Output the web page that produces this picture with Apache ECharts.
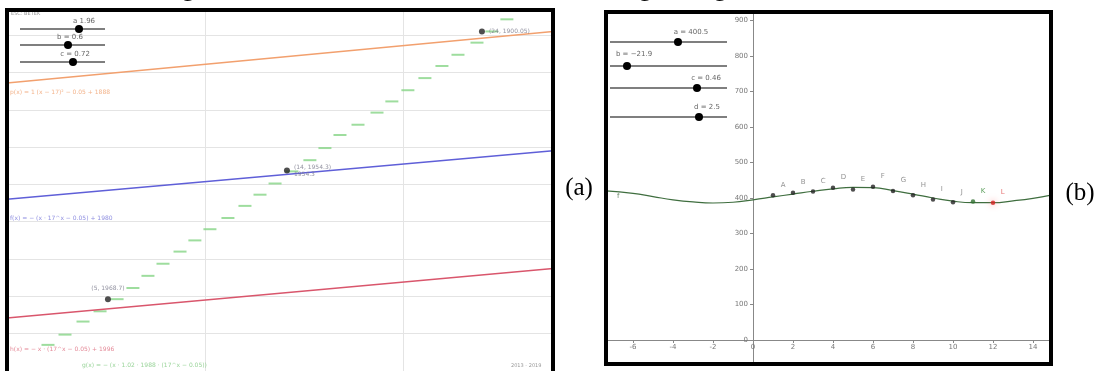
<!DOCTYPE html>
<html>
<head>
<meta charset="utf-8">
<script src="https://cdn.jsdelivr.net/npm/echarts/dist/echarts.min.js"></script>
<style>
  html, body { margin: 0; padding: 0; background: #fff; }
  #root { width: 1102px; height: 371px; }
</style>
</head>
<body>
<div id="root"></div>
<script>
// panel (a): regression lines and step data
const aLineX = [0, 27.58];
const aOrangeY = [77.2, 91.0];
const aBlueY = [46.0, 59.0];
const aRedY = [14.2, 27.5];
const aGreenX = [2.07, 2.93, 3.84, 4.70, 5.56, 6.36, 7.12, 7.88, 8.74, 9.49, 10.25, 11.16, 12.02, 12.78, 13.54,
  14.39, 15.30, 16.06, 16.82, 17.73, 18.69, 19.44, 20.25, 21.11, 21.97, 22.78, 23.74, 24.49, 25.25];
const aGreenY = [7.0, 9.75, 13.25, 16.0, 19.25, 22.25, 25.5, 28.75, 32.0, 35.0, 38.0, 41.0, 44.25, 47.25, 50.25,
  53.5, 56.5, 59.75, 63.25, 66.0, 69.25, 72.25, 75.25, 78.5, 81.75, 84.75, 88.0, 91.0, 94.25];
const aPointX = [23.99, 14.14, 5.10];
const aPointY = [91.0, 53.75, 19.25];
const aPointLabels = ['(24, 1900.05)', '(14, 1954.3)\n1954.3', '(5, 1968.7)'];

// panel (b): sine fit and data points
const bCurveX = [-7.35, -6, -5, -4, -3, -2, -1, 0, 1, 2, 3, 4, 5, 6, 7, 8, 9, 10, 11, 12, 13, 14, 14.9];
const bCurveY = [420, 413, 404, 395, 389, 386, 388, 395, 403, 411, 419, 426, 430, 429, 421, 411, 400, 391, 387, 387, 392, 399, 408];
const bPointX = [1, 2, 3, 4, 5, 6, 7, 8, 9, 10, 11, 12];
const bPointY = [408, 415, 418, 429, 424, 432, 420, 408, 396, 388, 390, 387];
const bPointNames = ['A', 'B', 'C', 'D', 'E', 'F', 'G', 'H', 'I', 'J', 'K', 'L'];
const bXTicks = [-6, -4, -2, 0, 2, 4, 6, 8, 10, 12, 14];
const bYTicks = [0, 100, 200, 300, 400, 500, 600, 700, 800, 900];

const sans = 'DejaVu Sans';
let root = document.getElementById('root');
let myCharts = echarts.init(root);

function pairs(xs, ys) {
  return xs.map((x, i) => [x, ys[i]]);
}
function tinyText(x, y, text, color, size) {
  return {
    type: 'text', x: x, y: y, z: 50,
    style: { text: text, fill: color, font: (size || 6) + 'px ' + sans, verticalAlign: 'middle' }
  };
}
function slider(x1, x2, y, knob, label, labelX, labelY) {
  return [
    { type: 'line', z: 50, shape: { x1: x1, y1: y, x2: x2, y2: y }, style: { stroke: '#555', lineWidth: 1.5 } },
    { type: 'circle', z: 51, shape: { cx: knob, cy: y, r: 4 }, style: { fill: '#000' } },
    { type: 'text', z: 51, x: labelX, y: labelY,
      style: { text: label, fill: '#666', font: '7px ' + sans, align: 'center', verticalAlign: 'middle' } }
  ];
}

let option = {
  animation: false,
  grid: [
    { left: 7, top: 10, width: 546, height: 387 },
    { left: 606, top: 12, width: 445, height: 352 }
  ],
  xAxis: [
    {
      type: 'value', gridIndex: 0, min: 0, max: 27.58, interval: 10,
      axisLine: { show: false }, axisTick: { show: false }, axisLabel: { show: false },
      splitLine: { show: true, lineStyle: { color: '#e4e4e4', width: 1 } }
    },
    {
      // axis crosses at y = 0, which sits 24px above the grid bottom
      type: 'value', gridIndex: 1, min: -7.35, max: 14.9, position: 'bottom', offset: -24,
      axisLine: { show: true, onZero: false, lineStyle: { color: '#888', width: 1 } },
      axisTick: { show: true, length: 3, customValues: bXTicks, lineStyle: { color: '#888' } },
      axisLabel: { customValues: bXTicks, color: '#777', fontSize: 7, fontFamily: sans, margin: 4 },
      splitLine: { show: false }
    }
  ],
  yAxis: [
    {
      type: 'value', gridIndex: 0, min: 0, max: 96.75, interval: 10,
      axisLine: { show: false }, axisTick: { show: false }, axisLabel: { show: false },
      splitLine: { show: true, lineStyle: { color: '#e4e4e4', width: 1 } }
    },
    {
      // axis crosses at x = 0, 147px right of the grid left edge
      type: 'value', gridIndex: 1, min: -67.6, max: 924, position: 'left', offset: -147,
      axisLine: { show: true, onZero: false, lineStyle: { color: '#888', width: 1 } },
      axisTick: { show: true, length: 3, customValues: bYTicks, lineStyle: { color: '#888' } },
      axisLabel: { customValues: bYTicks, color: '#777', fontSize: 7, fontFamily: sans, margin: 5 },
      splitLine: { show: false }
    }
  ],
  series: [
    {
      name: 'orange', type: 'line', xAxisIndex: 0, yAxisIndex: 0, showSymbol: false,
      data: pairs(aLineX, aOrangeY), lineStyle: { color: '#f2a06e', width: 1.5 }
    },
    {
      name: 'blue', type: 'line', xAxisIndex: 0, yAxisIndex: 0, showSymbol: false,
      data: pairs(aLineX, aBlueY), lineStyle: { color: '#5f5fd8', width: 1.5 }
    },
    {
      name: 'red', type: 'line', xAxisIndex: 0, yAxisIndex: 0, showSymbol: false,
      data: pairs(aLineX, aRedY), lineStyle: { color: '#d9566c', width: 1.5 }
    },
    {
      name: 'steps', type: 'scatter', xAxisIndex: 0, yAxisIndex: 0,
      symbol: 'rect', symbolSize: [13, 2],
      data: pairs(aGreenX, aGreenY), itemStyle: { color: '#86d486' }
    },
    {
      name: 'aPoints', type: 'scatter', xAxisIndex: 0, yAxisIndex: 0, symbolSize: 6, z: 5,
      data: aPointX.map((x, i) => ({ value: [x, aPointY[i]], label: { position: i === 2 ? 'top' : 'right' } })),
      itemStyle: { color: '#222' },
      label: {
        show: true, fontSize: 6, fontFamily: sans, color: '#778', distance: 4, lineHeight: 7,
        formatter: p => aPointLabels[p.dataIndex]
      }
    },
    {
      name: 'fit', type: 'line', xAxisIndex: 1, yAxisIndex: 1, smooth: true, showSymbol: false,
      data: pairs(bCurveX, bCurveY), lineStyle: { color: '#3f6e3f', width: 1.2 }
    },
    {
      name: 'bPoints', type: 'scatter', xAxisIndex: 1, yAxisIndex: 1, symbolSize: 4.5, z: 5,
      data: bPointX.map((x, i) => ({
        value: [x, bPointY[i]], name: bPointNames[i],
        itemStyle: bPointNames[i] === 'L' ? { color: '#d42020', shadowBlur: 6, shadowColor: '#ff8080' }
          : bPointNames[i] === 'K' ? { color: '#2f6f2f' } : { color: '#222' },
        label: { color: bPointNames[i] === 'L' ? '#e05050' : bPointNames[i] === 'K' ? '#3a8a3a' : '#777' }
      })),
      label: {
        show: true, position: 'insideBottomLeft', offset: [5, -4], fontSize: 7, fontFamily: sans,
        formatter: p => p.name
      }
    }
  ],
  graphic: [
    // panel borders
    { type: 'rect', z: 100, shape: { x: 7, y: 10, width: 546, height: 400 }, style: { fill: null, stroke: '#000', lineWidth: 4 } },
    { type: 'rect', z: 100, shape: { x: 606, y: 12, width: 445, height: 352 }, style: { fill: null, stroke: '#000', lineWidth: 4 } },
    // panel letters
    { type: 'text', x: 579, y: 188, z: 100, style: { text: '(a)', fill: '#000', font: '25px "Liberation Serif"', align: 'center', verticalAlign: 'middle' } },
    { type: 'text', x: 1080, y: 193, z: 100, style: { text: '(b)', fill: '#000', font: '25px "Liberation Serif"', align: 'center', verticalAlign: 'middle' } },
    // descenders of the caption above
    { type: 'text', x: 188, y: 2, style: { text: 'g', fill: '#000', font: '24px "Liberation Serif"', align: 'center', verticalAlign: 'bottom' } },
    { type: 'text', x: 645, y: 2, style: { text: 'g', fill: '#000', font: '24px "Liberation Serif"', align: 'center', verticalAlign: 'bottom' } },
    { type: 'text', x: 720, y: 2, style: { text: 'g', fill: '#000', font: '24px "Liberation Serif"', align: 'center', verticalAlign: 'bottom' } },
    // panel (a) texts
    tinyText(11, 14, 'ESC: BETEK', '#999', 5),
    tinyText(10, 92, 'p(x) = 1 (x \u2212 17)\u00b2 \u2212 0.05 + 1888', '#f3b48c'),
    tinyText(10, 218, 'f(x) = \u2212 (x \u00b7 17^x \u2212 0.05) + 1980', '#8f8fe0'),
    tinyText(10, 349, 'h(x) = \u2212 x \u00b7 (17^x \u2212 0.05) + 1996', '#e48a98'),
    tinyText(82, 365, 'g(x) = \u2212 (x \u00b7 1.02 \u00b7 1988 \u00b7 (17^x \u2212 0.05))', '#9ad49a'),
    tinyText(511, 366, '2013 - 2019', '#999', 5),
    ...slider(20, 105, 29, 79, 'a 1.96', 84, 21),
    ...slider(20, 105, 45, 68, 'b = 0.6', 70, 37),
    ...slider(20, 105, 62, 73, 'c = 0.72', 75, 54),
    // panel (b) sliders
    ...slider(610, 727, 42, 678, 'a = 400.5', 691, 32),
    ...slider(610, 727, 66, 627, 'b = \u221221.9', 634, 54),
    ...slider(610, 727, 88, 697, 'c = 0.46', 706, 78),
    ...slider(610, 727, 117, 699, 'd = 2.5', 707, 107),
    tinyText(617, 196, 'f', '#6a8a6a', 7)
  ]
};
myCharts.setOption(option);
</script>
</body>
</html>
